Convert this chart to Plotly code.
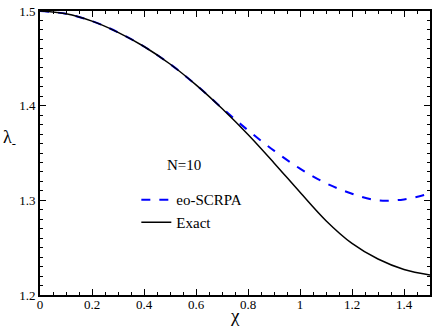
import plotly.graph_objects as go

chi = [0.0, 0.1, 0.2, 0.3, 0.4, 0.5, 0.6, 0.7, 0.8, 0.9, 1.0, 1.1, 1.2, 1.3, 1.4, 1.5]
exact = [1.5000, 1.4970, 1.4893, 1.4775, 1.4625, 1.4440, 1.4220, 1.3970, 1.3695, 1.3395, 1.3085, 1.2785, 1.2545, 1.2380, 1.2270, 1.2212]
eo_scrpa = [1.5000, 1.4970, 1.4893, 1.4775, 1.4625, 1.4440, 1.4220, 1.3975, 1.3740, 1.3525, 1.3335, 1.3180, 1.3070, 1.3000, 1.3010, 1.3072]

font = "Liberation Serif"

fig = go.Figure()
fig.add_trace(go.Scatter(x=chi, y=eo_scrpa, mode="lines", name="eo-SCRPA",
                         line=dict(color="#0000ff", width=2, dash="dash", shape="spline")))
fig.add_trace(go.Scatter(x=chi, y=exact, mode="lines", name="Exact",
                         line=dict(color="black", width=1.5, shape="spline")))

axis_common = dict(showline=True, linewidth=2, linecolor="black", mirror="ticks",
                   ticks="inside", ticklen=6, tickwidth=1, tickcolor="black",
                   showgrid=False, zeroline=False, ticklabeloverflow="allow",
                   tickfont=dict(family=font, size=13, color="black"))

fig.update_xaxes(range=[0, 1.5], tickvals=[0, 0.2, 0.4, 0.6, 0.8, 1.0, 1.2, 1.4],
                 ticktext=["0", "0.2", "0.4", "0.6", "0.8", "1", "1.2", "1.4"],
                 minor=dict(dtick=0.05, tick0=0, ticks="inside", ticklen=3, tickcolor="black"),
                 ticklabelstandoff=-4,
                 **axis_common)
fig.update_yaxes(range=[1.2, 1.5], tickvals=[1.2, 1.3, 1.4, 1.5],
                 ticktext=["1.2", "1.3", "1.4", "1.5"],
                 minor=dict(dtick=0.01, tick0=1.2, ticks="inside", ticklen=3, tickcolor="black"),
                 **axis_common)

fig.add_annotation(text="λ<sub>-</sub>", xref="paper", yref="paper", x=-0.1, y=0.55,
                   xanchor="left", yanchor="middle", showarrow=False,
                   font=dict(family=font, size=18, color="black"))
fig.add_annotation(text="χ", xref="paper", yref="paper", x=0.499, y=-0.072,
                   xanchor="center", yanchor="middle", showarrow=False,
                   font=dict(family=font, size=19, color="black"))
fig.add_annotation(text="N=10", x=0.554, y=1.3374, showarrow=False,
                   font=dict(family=font, size=15, color="black"))

fig.update_layout(
    width=436, height=327,
    margin=dict(l=40, r=4, t=5, b=32),
    font=dict(family=font, color="black"),
    plot_bgcolor="white", paper_bgcolor="white",
    legend=dict(x=0.247, y=0.393, xanchor="left", yanchor="top",
                bgcolor="rgba(0,0,0,0)", font=dict(family=font, size=15, color="black"),
                itemwidth=30, tracegroupgap=0),
)

# drop the default body margin so the 436x327 figure fills the window
fig.write_html("out.html", config={"displayModeBar": False},
               post_script="document.body.style.margin='0';")
